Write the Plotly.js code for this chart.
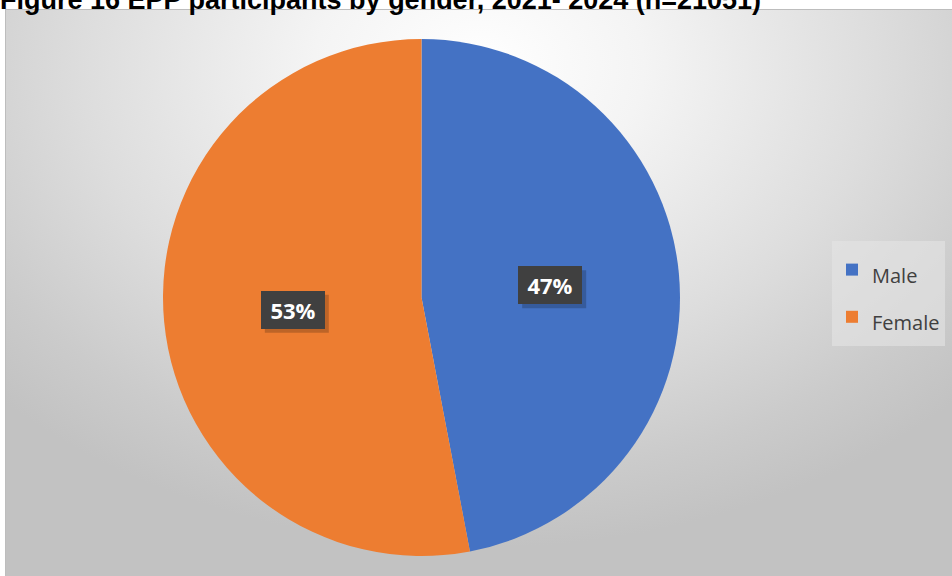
<!DOCTYPE html>
<html>
<head>
<meta charset="utf-8">
<script src="https://cdn.plot.ly/plotly-3.0.1.min.js"></script>
<style>
  html, body { margin:0; padding:0; background:#ffffff; }
  #wrap { position:relative; width:952px; height:576px; overflow:hidden; }
  #bg { position:absolute; left:5px; top:9px; width:946px; height:566px;
        border:1px solid #bdbdbd;
        background: radial-gradient(ellipse 70% 85% at 50% 10%, #ffffff 0%, #f4f4f4 25%, #dddddd 60%, #cbcbcb 85%, #c2c2c2 100%); }
  #chart { position:absolute; left:0; top:0; width:952px; height:576px; }
</style>
</head>
<body>
<div id="wrap">
  <div id="bg"></div>
  <div id="chart"></div>
</div>
<script>
const categories = ["Male", "Female"];
const shares = [47, 53];
const colors = ["#4472C4", "#ED7D31"];
const chartTitle = "Figure 16 EPP participants by gender, 2021- 2024 (n=21051)";

const W = 952, H = 576;
const domX = [163 / W, 680 / W];
const domY = [(H - 556) / H, (H - 39) / H];

// label positions derived from slice mid-angles (clockwise from 12 o'clock)
const total = shares.reduce((a, b) => a + b, 0);
const cx = (domX[0] + domX[1]) / 2 * W;
const cyTop = H - (domY[0] + domY[1]) / 2 * H;
const R = Math.min((domX[1] - domX[0]) * W, (domY[1] - domY[0]) * H) / 2;
let acc = 0;
const annotations = [];
const shapes = [];
const boxW = 64, boxH = 38;
shares.forEach((v, i) => {
  const mid = (acc + v / 2) / total * 2 * Math.PI;
  acc += v;
  const px = cx + 0.5 * R * Math.sin(mid);
  const py = cyTop - 0.5 * R * Math.cos(mid);
  // soft shadow behind the label box
  shapes.push({
    type: 'rect', xref: 'paper', yref: 'paper', layer: 'above',
    x0: (px - boxW / 2 + 4) / W, x1: (px + boxW / 2 + 4) / W,
    y0: 1 - (py + boxH / 2 + 4) / H, y1: 1 - (py - boxH / 2 + 4) / H,
    fillcolor: 'rgba(0,0,0,0.2)', line: { width: 0 }
  });
  annotations.push({
    x: px / W, y: 1 - py / H, xref: 'paper', yref: 'paper',
    xanchor: 'center', yanchor: 'middle',
    width: boxW, height: boxH,
    text: '<b>' + Math.round(v / total * 100) + '%</b>',
    showarrow: false, borderpad: 0, borderwidth: 0,
    bgcolor: '#404040',
    font: { family: 'Open Sans, sans-serif', size: 22, color: '#ffffff' }
  });
});

const trace = {
  type: 'pie',
  labels: categories.map(c => '<span style="font-size:20px">' + c + '</span>'),
  values: shares,
  sort: false,
  direction: 'clockwise',
  rotation: 0,
  marker: { colors: colors, line: { width: 0 } },
  textinfo: 'none',
  hoverinfo: 'label+percent',
  domain: { x: domX, y: domY }
};

const layout = {
  width: W, height: H,
  margin: { l: 0, r: 0, t: 0, b: 0 },
  paper_bgcolor: 'rgba(0,0,0,0)',
  plot_bgcolor: 'rgba(0,0,0,0)',
  title: {
    text: '<b>' + chartTitle + '</b>',
    x: 0.0, xanchor: 'left', xref: 'container',
    y: 1, yanchor: 'middle', yref: 'container',
    font: { family: 'Liberation Sans, Arial, sans-serif', size: 27, color: '#000000' }
  },
  showlegend: true,
  legend: {
    x: 832 / W, xanchor: 'left',
    y: 1 - 241 / H, yanchor: 'top',
    bgcolor: 'rgba(228,228,228,0.6)',
    font: { family: 'Open Sans, sans-serif', size: 34, color: '#404040' },
    itemsizing: 'constant'
  },
  shapes: shapes,
  annotations: annotations
};

Plotly.newPlot('chart', [trace], layout, { displayModeBar: false, staticPlot: true });
</script>
</body>
</html>
